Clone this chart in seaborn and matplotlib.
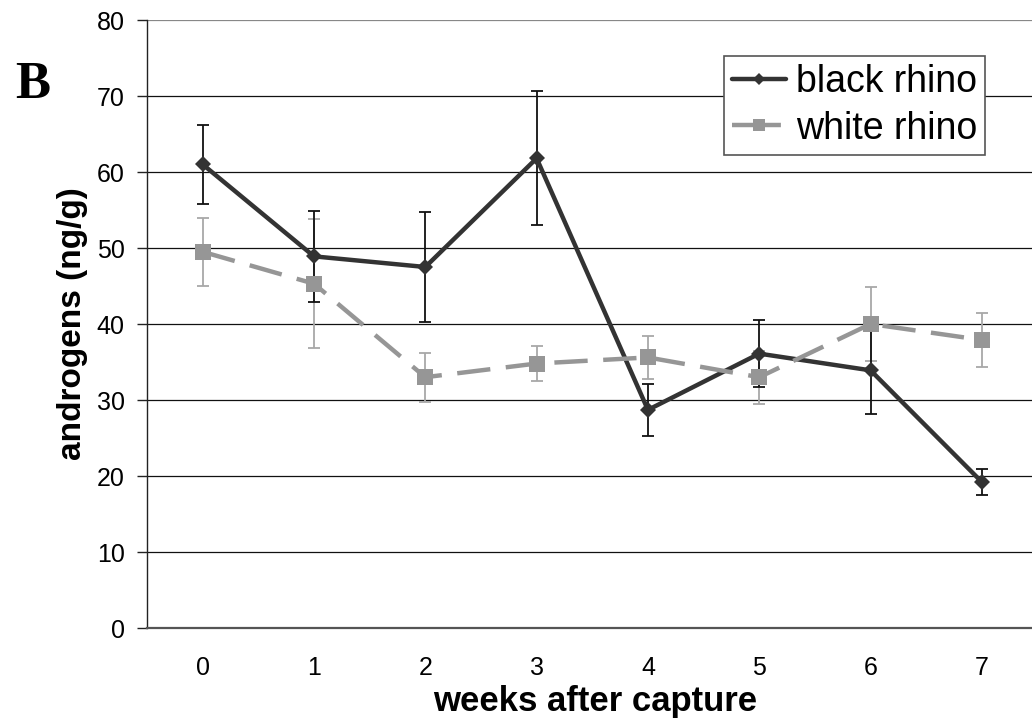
import matplotlib
matplotlib.use("Agg")
import matplotlib.pyplot as plt
import seaborn as sns
import pandas as pd
from matplotlib.lines import Line2D

# weeks after capture and androgen means / error bars
weeks = [0, 1, 2, 3, 4, 5, 6, 7]
black_mean = [61.0, 48.9, 47.5, 61.8, 28.7, 36.1, 33.9, 19.2]
black_err = [5.2, 6.0, 7.2, 8.8, 3.4, 4.4, 5.7, 1.7]
white_mean = [49.5, 45.3, 33.0, 34.8, 35.6, 33.0, 40.0, 37.9]
white_err = [4.5, 8.5, 3.2, 2.3, 2.8, 3.5, 4.9, 3.6]
series_names = ["black rhino", "white rhino"]

df = pd.DataFrame({
    "week": weeks * 2,
    "androgens": black_mean + white_mean,
    "rhino": [series_names[0]] * 8 + [series_names[1]] * 8,
})

sns.set_style("white")
plt.rcParams["font.family"] = ["Liberation Sans", "DejaVu Sans"]
plt.rcParams["text.color"] = "black"
plt.rcParams["xtick.color"] = "black"
plt.rcParams["ytick.color"] = "black"
plt.rcParams["axes.labelcolor"] = "black"

fig = plt.figure(figsize=(10.32, 7.19), dpi=100)
ax = fig.add_axes([147 / 1032, 1 - 628 / 719, (1032 - 147) / 1032, 608 / 719])

# gridlines
for v in range(10, 90, 10):
    ax.axhline(v, color="#111111" if v < 80 else "#888888", lw=0.9, zorder=0)

# error bars first, lines on top
ax.errorbar(weeks, white_mean, yerr=white_err, fmt="none", ecolor="#a8a8a8",
            elinewidth=1.3, capsize=4, capthick=1.3, zorder=2)
ax.errorbar(weeks, black_mean, yerr=black_err, fmt="none", ecolor="#111111",
            elinewidth=1.3, capsize=4, capthick=1.3, zorder=3)

palette = {"black rhino": "#333333", "white rhino": "#969696"}
sns.lineplot(data=df, x="week", y="androgens", hue="rhino", style="rhino",
             palette=palette, markers={"black rhino": "D", "white rhino": "s"},
             dashes={"black rhino": "", "white rhino": (7.5, 3.5)},
             markersize=9, markeredgewidth=0, lw=3.2, ax=ax, zorder=4,
             legend=False)
ax.lines[-2].set_markersize(8)
ax.lines[-1].set_markersize(11)

ax.set_xlim(-0.5, 7.45)
ax.set_ylim(0, 80)
ax.set_yticks(range(0, 90, 10))
ax.set_xticks(weeks)
ax.set_xticks([w - 0.5 for w in weeks], minor=True)
ax.tick_params(axis="x", which="major", length=0, pad=20, labelsize=18)
ax.tick_params(axis="x", which="minor", length=7, width=1, color="#222222",
               direction="out")
ax.tick_params(axis="y", length=7, width=1, color="#222222", direction="out",
               pad=9, labelsize=18, left=True)

for s in ["top", "right"]:
    ax.spines[s].set_visible(False)
ax.spines["left"].set_color("#222222")
ax.spines["left"].set_linewidth(1.0)
ax.spines["bottom"].set_color("#555555")
ax.spines["bottom"].set_linewidth(1.6)

ax.set_xlabel("")
ax.set_ylabel("androgens (ng/g)", fontsize=24, fontweight="bold", labelpad=6)
fig.text(595 / 1032, 1 - 711 / 719, "weeks after capture", fontsize=25,
         fontweight="bold", ha="center", va="baseline")

# legend
handles = [
    Line2D([], [], color="#333333", lw=3.2, marker="D", markersize=6,
           markeredgewidth=0),
    Line2D([], [], color="#969696", lw=3.2, marker="s", markersize=8,
           markeredgewidth=0, dashes=(11, 5.5)),
]
leg = ax.legend(handles, series_names, loc="upper right",
                bbox_to_anchor=(0.947, 0.941), fontsize=27, frameon=True,
                fancybox=False, framealpha=1, edgecolor="#555555",
                handlelength=1.45, handletextpad=0.25, borderpad=0.22,
                labelspacing=0.28, borderaxespad=0)
leg.get_frame().set_linewidth(1.2)
leg.set_zorder(6)

fig.text(33 / 1032, 1 - 85 / 719, "B", fontsize=38, fontweight="bold",
         family="Liberation Serif", ha="center", va="center")

fig.savefig("out.png", dpi=100)
